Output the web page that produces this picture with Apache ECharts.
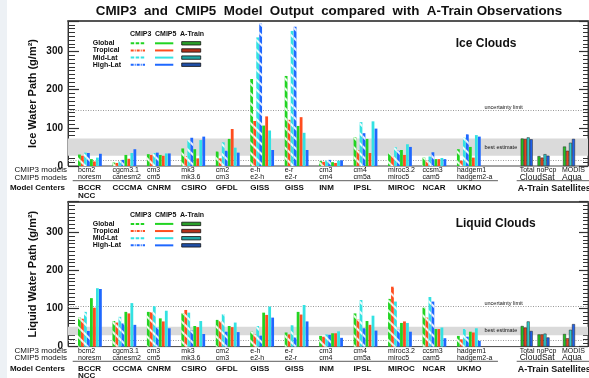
<!DOCTYPE html>
<html>
<head>
<meta charset="utf-8">
<script src="https://cdn.jsdelivr.net/npm/echarts@6/dist/echarts.min.js"></script>
<style>
  html, body { margin: 0; padding: 0; background: #fff; }
  #chart { width: 589px; height: 378px; }
</style>
</head>
<body>
<div id="chart"></div>
<script>
// ---- data -----------------------------------------------------------------
// Modelling centres and the model version each one ran for CMIP3 and CMIP5
const centers = ['BCCR', 'CCCMA', 'CNRM', 'CSIRO', 'GFDL', 'GISS', 'GISS', 'INM', 'IPSL', 'MIROC', 'NCAR', 'UKMO'];
const centerSubNames = ['NCC', '', '', '', '', '', '', '', '', '', '', ''];
const cmip3Models = ['bcm2', 'cgcm3.1', 'cm3', 'mk3', 'cm2', 'e-h', 'e-r', 'cm3', 'cm4', 'miroc3.2', 'ccsm3', 'hadgem1'];
const cmip5Models = ['noresm', 'canesm2', 'cm5', 'mk3.6', 'cm3', 'e2-h', 'e2-r', 'cm4', 'cm5a', 'miroc5', 'cam5', 'hadgem2-a'];
const regions = ['Global', 'Tropical', 'Mid-Lat', 'High-Lat'];
const satProducts = ['Total', 'noPcp', 'MODIS'];
const satInstruments = ['CloudSat', 'Aqua'];

// Ice water path, g/m2 — rows: Global, Tropical, Mid-Lat, High-Lat
const iceCmip3 = [
  [30, 9, 31, 46, 38, 228, 236, 13, 75, 34, 22, 44],
  [27, 8, 29, 26, 20, 118, 121, 11, 42, 26, 14, 14],
  [35, 13, 34, 68, 62, 337, 354, 14, 115, 49, 25, 74],
  [34, 16, 35, 74, 40, 373, 365, 16, 86, 40, 36, 83]
];
const iceCmip5 = [
  [18, 29, 29, 44, 71, 106, 105, 10, 71, 42, 18, 50],
  [12, 19, 27, 20, 97, 130, 128, 8, 34, 29, 18, 22],
  [22, 34, 33, 68, 48, 93, 87, 14, 117, 57, 21, 81],
  [32, 44, 33, 77, 35, 42, 42, 15, 98, 50, 18, 77]
];
// A-Train retrievals: CloudSat total, CloudSat no-precip, MODIS
const iceATrain = [
  [72, 26, 51],
  [71, 22, 40],
  [75, 31, 61],
  [70, 27, 71]
];
const iceBestEstimate = [27, 72];
const iceUncertainty = [14, 145];

// Liquid water path, g/m2
const liqCmip3 = [
  [76, 67, 91, 87, 70, 39, 37, 28, 87, 125, 102, 28],
  [73, 63, 90, 96, 67, 32, 32, 26, 71, 157, 76, 19],
  [91, 78, 106, 89, 85, 54, 56, 32, 122, 118, 130, 46],
  [41, 61, 50, 42, 39, 29, 24, 31, 48, 44, 118, 26]
];
const liqCmip5 = [
  [127, 91, 74, 54, 54, 89, 91, 35, 67, 62, 46, 39],
  [102, 87, 66, 51, 51, 83, 84, 35, 57, 66, 46, 37],
  [153, 114, 94, 67, 63, 105, 109, 40, 81, 62, 50, 48],
  [151, 57, 48, 33, 38, 76, 66, 23, 42, 39, 22, 15]
];
const liqATrain = [
  [54, 32, 33],
  [50, 32, 22],
  [66, 34, 44],
  [41, 24, 59]
];
const liqBestEstimate = [30, 52];
const liqUncertainty = [17, 105];

const yTicks = [0, 100, 200, 300];

// ---- layout & style -------------------------------------------------------
const FONT = '"Liberation Sans", Arial, Helvetica, sans-serif';
const modelColors = ['#22d422', '#ff4d1f', '#33e2e2', '#1f68ff'];
const satColors = ['#22c422', '#e8441c', '#2ccccc', '#1f62ec'];
const legendBoxColors = ['#2a9e2a', '#b3301a', '#1fa5a5', '#1f4fa8'];

const GROUP_PX = 34.45;              // distance between centre groups
const PITCH = 3 / GROUP_PX;          // one bar slot in group units
const X_MIN = -22 / GROUP_PX;
const X_MAX = 498 / GROUP_PX;
const satPos = [12.676, 13.164, 13.904];
const PLOT_H = 145;
const Y_MAX = 380;

const panels = [
  { top: 21, title: 'Ice Clouds', yName: 'Ice Water Path (g/m²)',
    cmip3: iceCmip3, cmip5: iceCmip5, aTrain: iceATrain, band: iceBestEstimate, limits: iceUncertainty },
  { top: 201.6, title: 'Liquid Clouds', yName: 'Liquid Water Path (g/m²)',
    cmip3: liqCmip3, cmip5: liqCmip5, aTrain: liqATrain, band: liqBestEstimate, limits: liqUncertainty }
];

const hatch = {
  symbol: 'rect', symbolSize: 1, color: 'rgba(255,255,255,0.9)',
  dashArrayX: [1, 0], dashArrayY: [1.3, 4.2], rotation: Math.PI / 4
};

const chart = echarts.init(document.getElementById('chart'), null, { renderer: 'canvas' });

const grids = panels.map(p => ({
  left: 68, right: 1, top: p.top, height: PLOT_H,
  show: true, borderColor: '#444', borderWidth: 1
}));

const xAxes = panels.map((p, k) => ({
  gridIndex: k, type: 'value', min: X_MIN, max: X_MAX, position: 'top',
  axisLine: { show: true, onZero: false, lineStyle: { color: '#555', width: 2 } },
  axisTick: { show: false }, axisLabel: { show: false }, splitLine: { show: false }
}));

const yAxes = [];
panels.forEach((p, k) => {
  const base = { gridIndex: k, type: 'value', min: 0, max: Y_MAX, splitLine: { show: false } };
  yAxes.push({
    ...base, position: 'left', interval: 100,
    axisLine: { show: true, onZero: false, lineStyle: { color: '#333', width: 1 } },
    axisTick: { show: true, inside: true, length: 11, lineStyle: { color: '#333', width: 1.2 } },
    axisLabel: {
      show: true, margin: 5, color: '#111', fontWeight: 'bold', fontSize: 10, fontFamily: FONT,
      formatter: v => (yTicks.indexOf(v) >= 0 ? String(v) : '')
    }
  });
  yAxes.push({
    ...base, position: 'left', interval: 10,
    axisLine: { show: false, onZero: false },
    axisTick: { show: true, inside: true, length: 7, lineStyle: { color: '#333', width: 1 } },
    axisLabel: { show: false }
  });
  yAxes.push({
    ...base, position: 'right', interval: 100,
    axisLine: { show: true, onZero: false, lineStyle: { color: '#333', width: 1 } },
    axisTick: { show: true, inside: true, length: 9, lineStyle: { color: '#333', width: 1.2 } },
    axisLabel: { show: false }
  });
  yAxes.push({
    ...base, position: 'right', interval: 10,
    axisLine: { show: false, onZero: false },
    axisTick: { show: true, inside: true, length: 5, lineStyle: { color: '#333', width: 1 } },
    axisLabel: { show: false }
  });
});

const series = [];
panels.forEach((p, k) => {
  const yIdx = k * 4;
  regions.forEach((reg, r) => {
    series.push({
      name: 'CMIP3 ' + reg, type: 'bar', xAxisIndex: k, yAxisIndex: yIdx, z: 6,
      barWidth: 2.8, barGap: '-100%', silent: true,
      itemStyle: { color: modelColors[r], decal: hatch },
      data: p.cmip3[r].map((v, i) => [i + (r - 3.5) * PITCH, v])
    });
    series.push({
      name: 'CMIP5 ' + reg, type: 'bar', xAxisIndex: k, yAxisIndex: yIdx, z: 6,
      barWidth: 2.8, barGap: '-100%', silent: true,
      itemStyle: { color: modelColors[r] },
      data: p.cmip5[r].map((v, i) => [i + (r + 0.5) * PITCH, v])
    });
    series.push({
      name: 'A-Train ' + reg, type: 'bar', xAxisIndex: k, yAxisIndex: yIdx, z: 6,
      barWidth: 3, barGap: '-100%', silent: true,
      itemStyle: { color: satColors[r], borderColor: '#222', borderWidth: 0.5 },
      data: p.aTrain[r].map((v, j) => [satPos[j] + (r - 1.5) * PITCH, v])
    });
  });
  // observational best-estimate band and uncertainty limits
  series.push({
    type: 'line', xAxisIndex: k, yAxisIndex: yIdx, silent: true, symbol: 'none',
    data: [[X_MIN, null]],
    markArea: {
      silent: true, z: 1, itemStyle: { color: '#dadada' },
      data: [[{ yAxis: p.band[0] }, { yAxis: p.band[1] }]]
    },
    markLine: {
      silent: true, z: 2, symbol: ['none', 'none'], label: { show: false },
      lineStyle: { type: [1, 1.5], color: '#999', width: 1 },
      data: p.limits.map(v => ({ yAxis: v }))
    }
  });
});

chart.setOption({
  animation: false,
  backgroundColor: '#fff',
  grid: grids, xAxis: xAxes, yAxis: yAxes, series
});

// ---- annotations: titles, legend, model / satellite labels ---------------
const g = [];
const txt = (text, x, y, font, align, vAlign, extra) =>
  Object.assign({ type: 'text', z: 20, silent: true,
    style: { text, x, y, font, fill: '#111', align: align || 'left', verticalAlign: vAlign || 'middle' } }, extra || {});
const line = (x1, y1, x2, y2, stroke, w, dash) =>
  ({ type: 'line', z: 20, silent: true, shape: { x1, y1, x2, y2 },
     style: { stroke, lineWidth: w, lineDash: dash || null } });

g.push({ type: 'rect', z: -1, silent: true, shape: { x: 0, y: 0, width: 7, height: 378 }, style: { fill: '#edf1f5' } });
g.push(txt('CMIP3  and  CMIP5  Model  Output  compared  with  A-Train Observations',
  329, 11.7, 'bold 13.4px ' + FONT, 'center'));

panels.forEach((p, k) => {
  const T = p.top;
  const xPx = v => chart.convertToPixel({ xAxisIndex: k }, v);
  const yPx = v => chart.convertToPixel({ yAxisIndex: k * 4 }, v);

  // axis title
  g.push({ type: 'text', z: 20, silent: true, x: 33, y: T + PLOT_H / 2, rotation: Math.PI / 2,
    style: { text: p.yName, x: 0, y: 0, font: 'bold 11px ' + FONT, fill: '#111', align: 'center', verticalAlign: 'middle' } });
  g.push(txt(p.title, 455.7, T + 22.3, 'bold 12px ' + FONT));

  // legend
  const lf = 'bold 7px ' + FONT;
  g.push(txt('CMIP3', 130, T + 13, lf), txt('CMIP5', 155, T + 13, lf), txt('A-Train', 180, T + 13, lf));
  regions.forEach((reg, r) => {
    const yy = T + 22.3 + r * 7.15;
    g.push(txt(reg, 92.7, yy, lf));
    g.push(line(130.7, yy, 145, yy, modelColors[r], 2, r % 2 ? [3, 1, 1, 1] : [3.5, 1.5]));
    g.push(line(155, yy, 173.3, yy, modelColors[r], 2));
    g.push({ type: 'rect', z: 20, silent: true, shape: { x: 181.7, y: yy - 1.7, width: 19, height: 3.4 },
      style: { fill: legendBoxColors[r], stroke: '#111', lineWidth: 0.8 } });
  });

  // reference-line captions
  g.push(txt('uncertainty limit', 484.5, yPx(p.limits[1]) - 3, '5.5px ' + FONT));
  g.push(txt('best estimate', 484.5, yPx((p.band[0] + p.band[1]) / 2), '5.5px ' + FONT));

  // labels below the plot
  const sf = '7px ' + FONT;
  g.push(txt('CMIP3 models', 67, T + 149, '8px ' + FONT, 'right'));
  g.push(txt('CMIP5 models', 67, T + 156.3, '8px ' + FONT, 'right'));
  g.push(txt('Model Centers', 65, T + 167, 'bold 8px ' + FONT, 'right'));
  centers.forEach((c, i) => {
    const x0 = xPx(i) - 12;
    g.push(txt(cmip3Models[i], x0, T + 149, sf));
    g.push(txt(cmip5Models[i], x0, T + 156.3, sf));
    g.push(txt(c, x0, T + 167, 'bold 8px ' + FONT));
    if (centerSubNames[i]) g.push(txt(centerSubNames[i], x0, T + 174.5, 'bold 8px ' + FONT));
  });
  g.push(line(72.7, T + 159.7, xPx(centers.length - 1) + 29, T + 159.7, '#333', 0.8));

  satProducts.forEach((s, j) => g.push(txt(s, xPx(satPos[j]) - 7, T + 149, sf)));
  g.push(txt(satInstruments[0], xPx(satPos[0]) - 7, T + 156.5, '8.5px ' + FONT));
  g.push(txt(satInstruments[1], xPx(satPos[2]) - 7, T + 156.5, '8.5px ' + FONT));
  g.push(line(516.7, T + 159.7, 589, T + 159.7, '#333', 0.8));
  g.push(txt('A-Train Satellites', 517.7, T + 168, 'bold 9px ' + FONT));
});

chart.setOption({ graphic: { elements: g } });
</script>
</body>
</html>
